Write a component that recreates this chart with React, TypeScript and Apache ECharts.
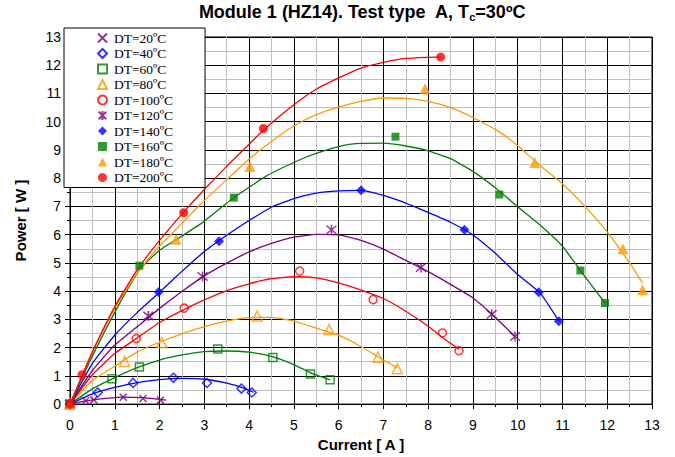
import React, { useEffect, useRef } from "react";
import * as echarts from "echarts";

// Legend / series labels
const seriesNames = [
  "DT=20ºC", "DT=40ºC", "DT=60ºC", "DT=80ºC", "DT=100ºC",
  "DT=120ºC", "DT=140ºC", "DT=160ºC", "DT=180ºC", "DT=200ºC",
];

// Measured points [current A, power W]
const m20 = [[0, 0], [0.35, 0.12], [0.53, 0.15], [1.19, 0.24], [1.63, 0.2], [2.02, 0.14]];
const m40 = [[0, 0], [0.62, 0.41], [1.41, 0.75], [2.31, 0.93], [3.06, 0.75], [3.83, 0.55], [4.06, 0.41]];
const m60 = [[0, 0], [0.94, 0.9], [1.55, 1.31], [3.3, 1.95], [4.53, 1.65], [5.37, 1.07], [5.81, 0.86]];
const m80 = [[0, 0], [1.22, 1.51], [2.05, 2.18], [4.18, 3.12], [5.79, 2.64], [6.88, 1.66], [7.31, 1.25]];
const m100 = [[0, 0], [1.48, 2.32], [2.55, 3.4], [5.13, 4.71], [6.77, 3.7], [8.32, 2.52], [8.69, 1.89]];
const m120 = [[0, 0], [1.75, 3.12], [2.96, 4.52], [5.84, 6.17], [7.84, 4.84], [9.42, 3.18], [9.94, 2.39]];
const m140 = [[0, 0], [1.98, 3.97], [3.33, 5.77], [6.5, 7.57], [8.81, 6.17], [10.47, 3.96], [10.92, 2.93]];
const m160 = [[0, 0], [1.55, 4.9], [3.66, 7.31], [7.27, 9.47], [9.59, 7.42], [11.4, 4.73], [11.95, 3.58]];
const m180 = [[0, 0], [2.37, 5.84], [4.02, 8.41], [7.93, 11.17], [10.38, 8.56], [12.35, 5.5], [12.79, 4.05]];
const m200 = [[0, 0], [0.27, 1.04], [2.54, 6.78], [4.32, 9.76], [8.28, 12.29]];

// Fitted curves
const c20 = [[0, 0], [0.4, 0.12], [0.8, 0.2], [1.2, 0.25], [1.6, 0.23], [2.0, 0.17], [2.15, 0.14]];
const c40 = [[0, 0], [0.5, 0.36], [1, 0.59], [1.5, 0.76], [2, 0.87], [2.5, 0.91], [3, 0.88], [3.5, 0.74], [3.9, 0.56], [4.1, 0.42]];
const c60 = [[0, 0], [0.5, 0.54], [1, 0.94], [1.5, 1.29], [2, 1.56], [2.5, 1.74], [3, 1.86], [3.5, 1.88], [4, 1.84], [4.5, 1.69], [5, 1.4], [5.4, 1.09], [5.81, 0.86]];
const c80 = [[0, 0], [0.5, 0.84], [1, 1.34], [1.5, 1.84], [2, 2.19], [2.5, 2.49], [3, 2.74], [3.5, 2.94], [4, 3.06], [4.5, 3.07], [5, 2.94], [5.5, 2.69], [6, 2.44], [6.5, 2.04], [7, 1.56], [7.31, 1.29]];
const c100 = [[0, 0], [0.5, 1.04], [1, 1.79], [1.5, 2.34], [2, 2.89], [2.5, 3.31], [3, 3.69], [3.5, 4.02], [4, 4.26], [4.5, 4.44], [5, 4.51], [5.5, 4.47], [6, 4.29], [6.5, 4.04], [7, 3.74], [7.5, 3.29], [8, 2.76], [8.32, 2.36], [8.69, 1.94]];
const c120 = [[0, 0], [0.5, 1.19], [1, 2.09], [1.5, 2.74], [2, 3.39], [2.5, 3.99], [3, 4.54], [3.5, 4.99], [4, 5.39], [4.5, 5.69], [5, 5.91], [5.5, 6.01], [6, 5.99], [6.5, 5.8], [7, 5.49], [7.5, 5.09], [8, 4.69], [8.5, 4.24], [9, 3.76], [9.42, 3.19], [9.94, 2.39]];
const c140 = [[0, 0], [0.5, 1.44], [1, 2.44], [1.5, 3.24], [2, 3.96], [2.5, 4.7], [3, 5.4], [3.5, 5.98], [4, 6.5], [4.5, 6.97], [5, 7.28], [5.5, 7.47], [6, 7.55], [6.5, 7.57], [7, 7.39], [7.5, 7.12], [8, 6.79], [8.5, 6.44], [9, 5.99], [9.5, 5.34], [10, 4.59], [10.5, 3.94], [10.92, 2.94]];
const c160 = [[0, 0], [0.5, 1.7], [1, 3.25], [1.55, 4.75], [2, 5.45], [2.5, 5.95], [2.93, 6.4], [3.65, 7.3], [4.41, 8.1], [5.16, 8.67], [5.5, 8.88], [6.12, 9.16], [6.5, 9.23], [7, 9.24], [7.5, 9.14], [8, 8.97], [8.5, 8.69], [9, 8.24], [9.5, 7.66], [10, 6.99], [10.5, 6.34], [11, 5.59], [11.4, 4.73], [11.95, 3.58]];
const c180 = [[0, 0], [0.5, 1.85], [1, 3.4], [1.5, 4.65], [2, 5.6], [2.5, 6.4], [2.91, 7.07], [3.5, 7.95], [4, 8.68], [4.5, 9.3], [5, 9.85], [5.5, 10.25], [6, 10.52], [6.5, 10.72], [7, 10.84], [7.5, 10.83], [8, 10.72], [8.5, 10.5], [9, 10.15], [9.6, 9.63], [10, 9.15], [10.5, 8.45], [11, 7.8], [11.5, 7.0], [12, 6.1], [12.5, 5.0], [12.79, 4.28]];
const c200 = [[0, 0], [0.27, 1.0], [0.5, 1.85], [1, 3.45], [1.5, 4.75], [2, 5.8], [2.54, 6.8], [3, 7.6], [3.5, 8.42], [4, 9.2], [4.32, 9.7], [5, 10.6], [5.5, 11.15], [6, 11.55], [6.5, 11.9], [7, 12.1], [7.5, 12.24], [8, 12.28], [8.28, 12.29]];

const markerData = [m20, m40, m60, m80, m100, m120, m140, m160, m180, m200];
const curveData = [c20, c40, c60, c80, c100, c120, c140, c160, c180, c200];

const PURPLE = "#800080";
const BLUE = "#0000FF";
const GREEN = "#008000";
const ORANGE = "#FF9900";
const RED = "#FF0000";
const colors = [PURPLE, BLUE, GREEN, ORANGE, RED, PURPLE, BLUE, GREEN, ORANGE, RED];

const CROSS = "path://M0,0L10,10M10,0L0,10";
const ASTERISK = "path://M0,0L10,10M10,0L0,10M5,-1L5,11";
const symbols = [CROSS, "diamond", "rect", "triangle", "circle", ASTERISK, "diamond", "rect", "triangle", "circle"];
const symbolSizes = [7, 9, 8, 10, 8, 10, 10, 8, 11, 9];
const filled = [false, false, false, false, false, false, true, true, true, true];

const SANS = "Liberation Sans, Arial, sans-serif";
const SERIF = "Liberation Serif, Times New Roman, serif";

export default function App() {
  const ref = useRef<HTMLDivElement>(null);

  useEffect(() => {
    if (!ref.current) return;
    const chart = echarts.init(ref.current, undefined, { renderer: "svg" });

    const lineSeries = curveData.map((d, i) => ({
      type: "line",
      name: "curve" + i,
      data: d,
      showSymbol: false,
      smooth: 0.15,
      lineStyle: { color: colors[i], width: 1.3 },
      itemStyle: { color: colors[i] },
      z: 2,
      silent: true,
    }));

    const scatterSeries = markerData.map((d, i) => {
      const isPath = symbols[i].startsWith("path://");
      return {
        type: "scatter",
        name: seriesNames[i],
        data: d,
        symbol: symbols[i],
        symbolSize: symbolSizes[i],
        itemStyle: filled[i]
          ? { color: colors[i], borderColor: colors[i], borderWidth: 0 }
          : { color: isPath ? colors[i] : "rgba(255,255,255,0)", borderColor: colors[i], borderWidth: 1.5 },
        z: 5,
      };
    });

    chart.setOption({
      animation: false,
      backgroundColor: "#ffffff",
      grid: {
        left: 70,
        right: 23,
        top: 37,
        bottom: 48,
        show: true,
        borderColor: "#000",
        borderWidth: 1,
        backgroundColor: "transparent",
      },
      graphic: [
        {
          type: "text",
          x: 362,
          y: 12,
          style: {
            text: "{b|Module 1 (HZ14). Test type  A, T}{s|c}{b|=30ºC}",
            align: "center",
            verticalAlign: "middle",
            rich: {
              b: { fontFamily: SANS, fontSize: 18, fontWeight: "bold", fill: "#000", lineHeight: 22 },
              s: { fontFamily: SANS, fontSize: 11, fontWeight: "bold", fill: "#000", lineHeight: 22, padding: [10, 0, 0, 0] },
            },
          },
        },
      ],
      legend: {
        data: seriesNames,
        orient: "vertical",
        left: 64,
        top: 28,
        backgroundColor: "#fff",
        borderColor: "#000",
        borderWidth: 1,
        padding: [3, 32, 3, 33],
        itemGap: 1.5,
        itemWidth: 9,
        itemHeight: 9,
        textStyle: { fontFamily: SERIF, fontSize: 13.5, color: "#000", padding: [0, 0, 0, 2] },
        selectedMode: false,
      },
      xAxis: {
        type: "value",
        min: 0,
        max: 13,
        interval: 1,
        name: "Current [ A ]",
        nameLocation: "middle",
        nameGap: 22,
        nameTextStyle: { fontFamily: SANS, fontSize: 15, fontWeight: "bold", color: "#000" },
        axisLine: { show: true, onZero: false, lineStyle: { color: "#000", width: 1 } },
        axisTick: { show: true, length: 5, lineStyle: { color: "#000" } },
        minorTick: { show: true, splitNumber: 2, length: 3, lineStyle: { color: "#000" } },
        axisLabel: { fontFamily: SANS, fontSize: 14, color: "#000", margin: 14 },
        splitLine: { show: true, lineStyle: { color: "#000", width: 1 } },
        minorSplitLine: { show: true, lineStyle: { color: "#c0c0c0", width: 1 } },
      },
      yAxis: {
        type: "value",
        min: 0,
        max: 13,
        interval: 1,
        name: "Power [ W ]",
        nameLocation: "middle",
        nameGap: 42,
        nameTextStyle: { fontFamily: SANS, fontSize: 15, fontWeight: "bold", color: "#000" },
        axisLine: { show: true, onZero: false, lineStyle: { color: "#000", width: 1 } },
        axisTick: { show: true, length: 5, lineStyle: { color: "#000" } },
        minorTick: { show: true, splitNumber: 2, length: 3, lineStyle: { color: "#000" } },
        axisLabel: { fontFamily: SANS, fontSize: 14, color: "#000", margin: 9 },
        splitLine: { show: true, lineStyle: { color: "#000", width: 1 } },
        minorSplitLine: { show: true, lineStyle: { color: "#c0c0c0", width: 1 } },
      },
      series: [...lineSeries, ...scatterSeries],
    });

    return () => chart.dispose();
  }, []);

  return (
    <div
      ref={ref}
      style={{ position: "fixed", left: 0, top: 0, width: 675, height: 457, background: "#fff" }}
    />
  );
}
